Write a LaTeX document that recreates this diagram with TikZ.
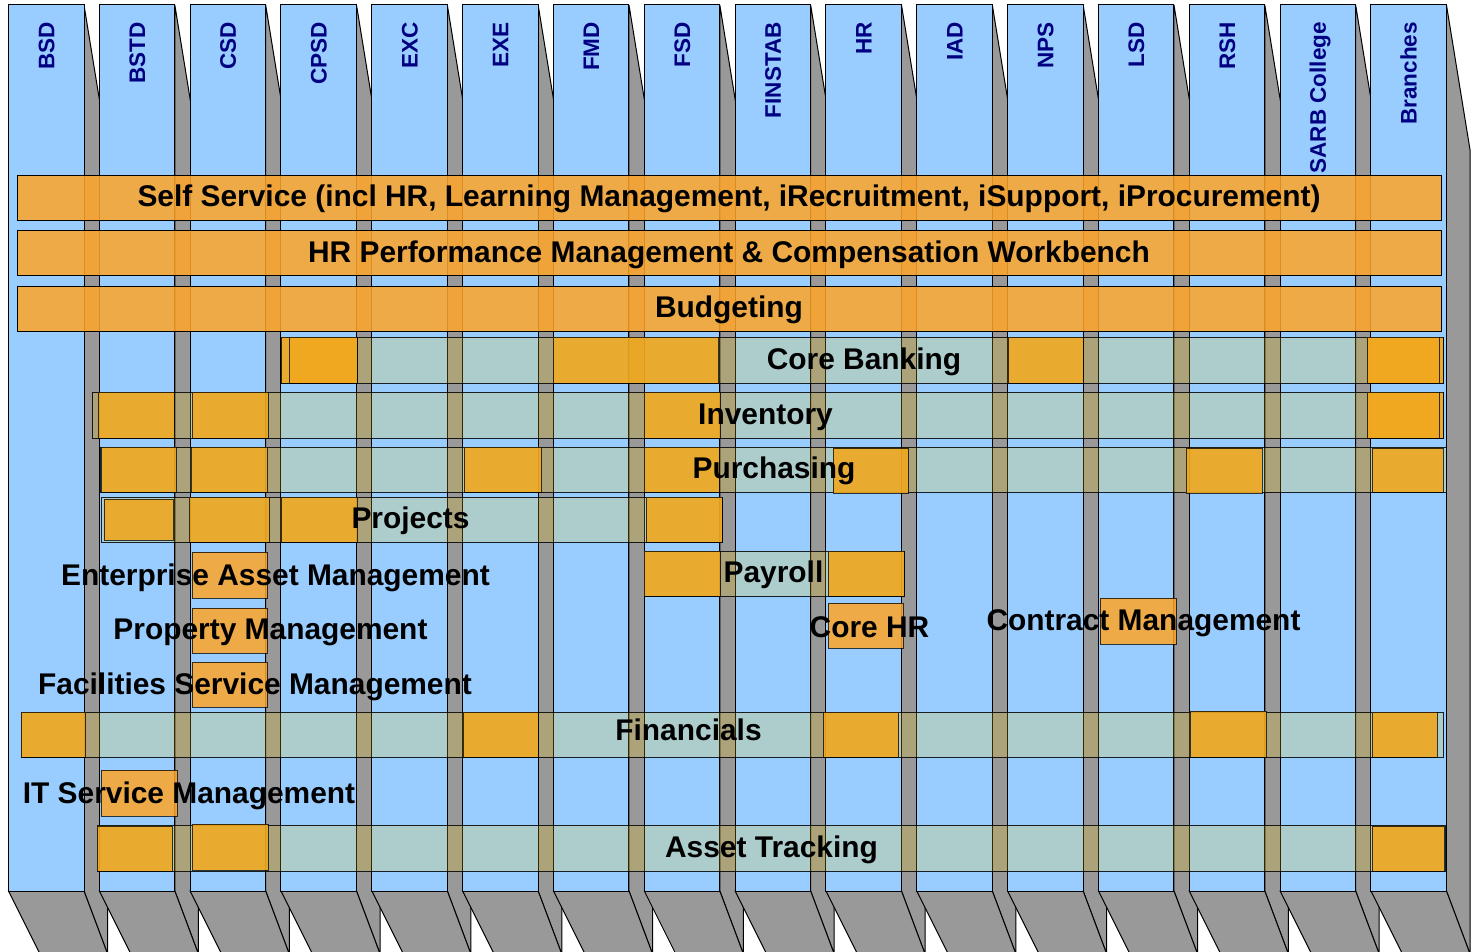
\documentclass[tikz,border=0pt]{standalone}
\usepackage{fontspec}
\setmainfont{Liberation Sans}
\definecolor{colfront}{RGB}{153,204,255}
\definecolor{colside}{RGB}{153,153,153}
\definecolor{hdrblue}{RGB}{0,0,128}
\definecolor{orangeA}{RGB}{255,165,40}
\definecolor{orangeB}{RGB}{240,168,30}
\definecolor{goldbar}{RGB}{255,204,0}
\newcommand\mybox[6]{\node[#1, anchor=north west, minimum width={(#5)-(#3)}, minimum height={(#6)-(#4)}] (#2) at (#3,#4) {};}
\tikzset{
  edge/.style={draw=black, line width=1pt},
  colface/.style={edge, fill=colfront, inner sep=0pt, outer sep=0pt, rectangle},
  sideface/.style={edge, fill=colside},
  hdr/.style={text=hdrblue, font=\fontsize{22.5}{26}\selectfont\bfseries, inner sep=0pt, rotate=90, anchor=base east},
  topbar/.style={rectangle, inner sep=0pt, outer sep=0pt, fill=orangeA, fill opacity=0.85, draw=black, line width=1pt},
  rowbar/.style={rectangle, inner sep=0pt, outer sep=0pt, fill=goldbar, fill opacity=0.2, draw=black, draw opacity=0.85, line width=1pt},
  rowblock/.style={rectangle, inner sep=0pt, outer sep=0pt, fill=orangeB, fill opacity=0.9, draw=black, draw opacity=0.75, line width=1pt},
  sblock/.style={rectangle, inner sep=0pt, outer sep=0pt, fill=orangeA, fill opacity=0.85, draw=black, draw opacity=0.75, line width=1pt},
  bartext/.style={text=black, font=\fontsize{29.9}{34}\selectfont\bfseries, inner sep=0pt, anchor=base},
}
\begin{document}
\begin{tikzpicture}[x=1pt,y=-1pt,line join=miter]
\useasboundingbox (0,0) rectangle (1473,952);
\clip (0,0) rectangle (1473,952);
% columns
\foreach \lab [count=\i from 0] in {BSD,BSTD,CSD,CPSD,EXC,EXE,FMD,FSD,FINSTAB,HR,IAD,NPS,LSD,RSH,SARB College,Branches} {
  \pgfmathsetmacro{\xl}{8.5+90.83*\i}
  \pgfmathsetmacro{\xr}{\xl+75.5}
  \pgfmathsetmacro{\xlb}{\xl+31.5}
  \pgfmathsetmacro{\xrb}{\xr+23.6}
  \pgfmathsetmacro{\xh}{\xl+37.75+8}
  \draw[sideface] (\xr,5) -- (\xrb,150) -- (\xrb,954) -- (\xr,891) -- cycle;
  \draw[sideface] (\xl,891) -- (\xr,891) -- (\xrb,954) -- (\xlb,954) -- cycle;
  \node[colface, anchor=north west, minimum width=75.5, minimum height=886] (col\i) at (\xl,5) {};
  \node[hdr] (hdr\i) at (\xh,22) {\lab};
}
% top bars
\mybox{topbar}{ss}{17}{176}{1441}{221}
\mybox{topbar}{hrp}{17}{231}{1441}{276}
\mybox{topbar}{bud}{17}{286}{1441}{331}
% core banking
\mybox{rowbar}{cb}{281}{337}{1443}{383}
\mybox{rowblock}{cb1}{281}{337}{357}{383}
\mybox{rowblock}{cb2}{289}{337}{357}{383}
\mybox{rowblock}{cb3}{553}{337}{718}{383}
\mybox{rowblock}{cb4}{1008}{337}{1083}{383}
\mybox{rowblock}{cb5}{1367}{337}{1443}{383}
\mybox{rowblock}{cb6}{1367}{337}{1439}{383}
% inventory
\mybox{rowbar}{inv}{92.7}{392}{1443}{438}
\mybox{rowblock}{inv1}{98}{392}{174}{438}
\mybox{rowblock}{inv2}{192}{392}{268}{438}
\mybox{rowblock}{inv3}{644}{392}{720}{438}
\mybox{rowblock}{inv4}{1367}{392}{1443}{438}
\mybox{rowblock}{inv5}{1367}{392}{1439}{438}
% purchasing
\mybox{rowbar}{pur}{100.7}{447}{1446}{492}
\mybox{rowblock}{pur1}{101.7}{447}{176}{492}
\mybox{rowblock}{pur2}{191.7}{447}{267}{492}
\mybox{rowblock}{pur3}{464}{447}{541}{492}
\mybox{rowblock}{pur4}{644}{447}{719}{492}
\mybox{rowblock}{pur5}{833}{448}{908}{493}
\mybox{rowblock}{pur6}{1186}{448}{1262}{493}
\mybox{rowblock}{pur7}{1372}{448}{1443}{492}
% projects
\mybox{rowbar}{prj}{101.7}{497}{722}{542}
\mybox{rowblock}{prj1}{104}{499}{173}{540}
\mybox{rowblock}{prj2}{189}{497}{269}{542}
\mybox{rowblock}{prj3}{281}{497}{357}{542}
\mybox{rowblock}{prj4}{646}{497}{722}{542}
% payroll
\mybox{rowbar}{pay}{644}{551}{904}{596}
\mybox{rowblock}{pay1}{644}{551}{720}{596}
\mybox{rowblock}{pay2}{828}{551}{904}{596}
% standalone blocks
\mybox{sblock}{eam}{192}{552}{267}{598}
\mybox{sblock}{prop}{192}{608}{267}{653}
\mybox{sblock}{fac}{192}{662}{267}{707}
\mybox{sblock}{chr}{828}{603}{903}{648}
\mybox{sblock}{con}{1100}{598}{1176}{644}
\mybox{sblock}{itsm}{101}{770}{177}{816}
% financials
\mybox{rowbar}{fin}{21.4}{712}{1443}{757}
\mybox{rowblock}{fin1}{21.4}{712}{85.7}{757}
\mybox{rowblock}{fin2}{463}{712}{538}{757}
\mybox{rowblock}{fin3}{823.6}{712}{898.6}{757}
\mybox{rowblock}{fin4}{1190.5}{711}{1266}{757}
\mybox{rowblock}{fin5}{1372}{712}{1437}{757}
% asset tracking
\mybox{rowbar}{at}{97}{825}{1445}{871}
\mybox{rowblock}{at1}{97}{826}{172.5}{871}
\mybox{rowblock}{at2}{192}{824}{268}{870}
\mybox{rowblock}{at3}{1372}{826}{1444}{871}
% texts
\node[bartext] (tss) at (729,207) {Self Service (incl HR, Learning Management, iRecruitment, iSupport, iProcurement)};
\node[bartext] (thrp) at (729,262) {HR Performance Management \& Compensation Workbench};
\node[bartext] (tbud) at (729,317) {Budgeting};
\node[bartext] (tcb) at (864,369) {Core Banking};
\node[bartext] (tinv) at (765.5,424) {Inventory};
\node[bartext] (tpur) at (774,478) {Purchasing};
\node[bartext] (tprj) at (410.5,528) {Projects};
\node[bartext] (tpay) at (773.5,582) {Payroll};
\node[bartext] (team) at (275.5,585) {Enterprise Asset Management};
\node[bartext] (tprop) at (270.5,639) {Property Management};
\node[bartext] (tfac) at (255,694) {Facilities Service Management};
\node[bartext] (tchr) at (869.5,637) {Core HR};
\node[bartext] (tcon) at (1143.5,630) {Contract Management};
\node[bartext] (tfin) at (688.5,740) {Financials};
\node[bartext] (titsm) at (189,803) {IT Service Management};
\node[bartext] (tat) at (771.5,857) {Asset Tracking};
\end{tikzpicture}
\end{document}
